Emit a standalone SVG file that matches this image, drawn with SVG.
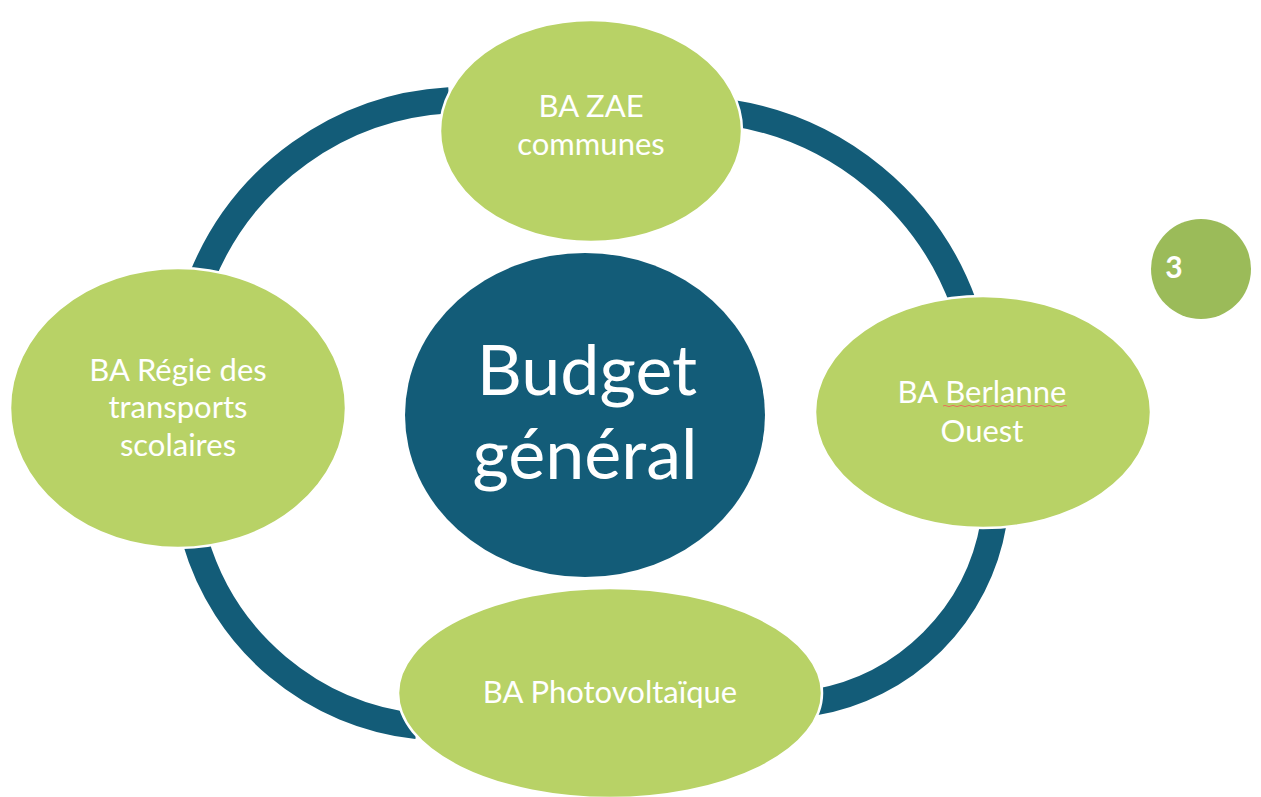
<svg xmlns="http://www.w3.org/2000/svg" width="1261" height="797" viewBox="0 0 1261 797">
<style>
.arc{fill:none;stroke:#135C78;stroke-width:26;stroke-linecap:butt}
.node{fill:#B8D266;stroke:#FFFFFF;stroke-width:2.5}
.lbl{font-family:Lato,"Open Sans","Liberation Sans",sans-serif;fill:#FFFFFF;text-anchor:middle;font-size:31px}
.big{font-size:70px}
</style>
<rect width="1261" height="797" fill="#FFFFFF"/>
<g id="connectors">
<path class="arc" d="M 202 277 A 284 284 0 0 1 449 100.3"/>
<path class="arc" d="M 731.9 112.8 A 296 296 0 0 1 963.9 304.4"/>
<path class="arc" d="M 993.5 523.5 A 219 219 0 0 1 814.5 702.5"/>
<path class="arc" d="M 416.8 726.2 A 260 260 0 0 1 195.2 540.2"/>
</g>
<g id="node-center">
<ellipse cx="585" cy="415" rx="180" ry="162" fill="#135C78"/>
<text class="lbl big" x="587" y="395">Budget</text>
<text class="lbl big" x="585" y="479">général</text>
</g>
<g id="node-top">
<ellipse class="node" cx="591" cy="131" rx="151" ry="111"/>
<text class="lbl" x="591" y="117">BA ZAE</text>
<text class="lbl" x="591" y="155">communes</text>
</g>
<g id="node-left">
<ellipse class="node" cx="178" cy="408" rx="168" ry="140"/>
<text class="lbl" x="178" y="381">BA Régie des</text>
<text class="lbl" x="178" y="418">transports</text>
<text class="lbl" x="178" y="456">scolaires</text>
</g>
<g id="node-right">
<ellipse class="node" cx="983" cy="412" rx="168" ry="116"/>
<text class="lbl" x="982" y="403">BA Berlanne</text>
<text class="lbl" x="982" y="442">Ouest</text>
<path d="M 943 406 q 2 -1.2 4 0 t 4 0 t 4 0 t 4 0 t 4 0 t 4 0 t 4 0 t 4 0 t 4 0 t 4 0 t 4 0 t 4 0 t 4 0 t 4 0 t 4 0 t 4 0 t 4 0 t 4 0 t 4 0 t 4 0 t 4 0 t 4 0 t 4 0 t 4 0 t 4 0 t 4 0 t 4 0 t 4 0 t 4 0 t 4 0 t 4 0" fill="none" stroke="#E8705E" stroke-width="1"/>
</g>
<g id="node-bottom">
<ellipse class="node" cx="610" cy="693" rx="212" ry="105"/>
<text class="lbl" x="610" y="703">BA Photovoltaïque</text>
</g>
<g id="page-number">
<circle cx="1201" cy="269" r="50" fill="#9BBB59"/>
<text x="1174" y="278" font-family="Lato,'Liberation Sans',sans-serif" font-weight="bold" font-size="30" fill="#FFFFFF" text-anchor="middle">3</text>
</g>
</svg>
